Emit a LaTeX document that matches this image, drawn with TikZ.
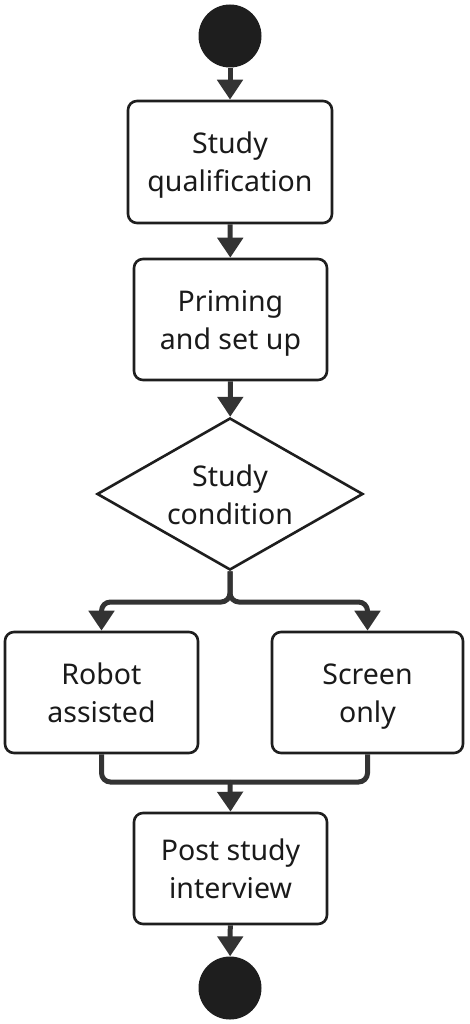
\documentclass[tikz,border=0pt]{standalone}
\usepackage{fontspec}
\setmainfont{Noto Sans}
\usetikzlibrary{arrows.meta,shapes.geometric}
\definecolor{ln}{HTML}{333333}
\definecolor{fillc}{HTML}{1E1E1E}
\definecolor{txt}{HTML}{1A1A1A}
\newcommand\sr{\rule[-8pt]{0pt}{38pt}}
\tikzset{
  x=1pt, y=-1pt,
  box/.style={draw=fillc, line width=2.6pt, rounded corners=9pt, fill=white,
    minimum width=#1, align=center, inner sep=0pt, text=txt,
    font=\fontsize{28.5}{38}\selectfont},
  box/.default=193pt,
  dot/.style={circle, fill=fillc, draw=none, minimum size=63pt, inner sep=0pt},
  conn/.style={draw=ln, line width=5pt},
  arr/.style={conn, -{Triangle[width=25pt,length=20pt]}},
}
\begin{document}
\begin{tikzpicture}
\useasboundingbox (0,0) rectangle (470,1024);
\node[dot] (start) at (230,36) {};
\node[box=204pt, minimum height=122pt] (q) at (230,162) {\sr Study\\\sr qualification};
\node[box, minimum height=121pt] (p) at (230.5,319.5) {\sr Priming\\\sr and set up};
\node[diamond, aspect=1.75, draw=fillc, line width=2.6pt, fill=white,
  minimum width=266pt, minimum height=152pt, inner sep=0pt, align=center,
  text=txt, font=\fontsize{28.5}{38}\selectfont] (d) at (230,494) {\sr Study\\\sr condition};
\node[box, minimum height=121pt] (r) at (101.5,692.5) {\sr Robot\\\sr assisted};
\node[box=191pt, minimum height=121pt] (s) at (367.5,692.5) {\sr Screen\\\sr only};
\node[box, minimum height=111pt] (post) at (230.5,868.5) {\sr Post study\\\sr interview};
\node[dot] (end) at (230,988) {};
\coordinate (j) at (230,602);
\coordinate (m) at (230,782);
\draw[arr] (start) -- (q);
\draw[arr] (q) -- (p);
\draw[arr] (p) -- (d);
\draw[arr, rounded corners=9pt] (d.south) -- (j) -| (r.north);
\draw[arr, rounded corners=9pt] (d.south) -- (j) -| (s.north);
\draw[conn, rounded corners=9pt] (r.south) |- (m);
\draw[conn, rounded corners=9pt] (s.south) |- (m);
\draw[arr] (m) -- (post.north);
\draw[arr] (post) -- (end);
\end{tikzpicture}
\end{document}
